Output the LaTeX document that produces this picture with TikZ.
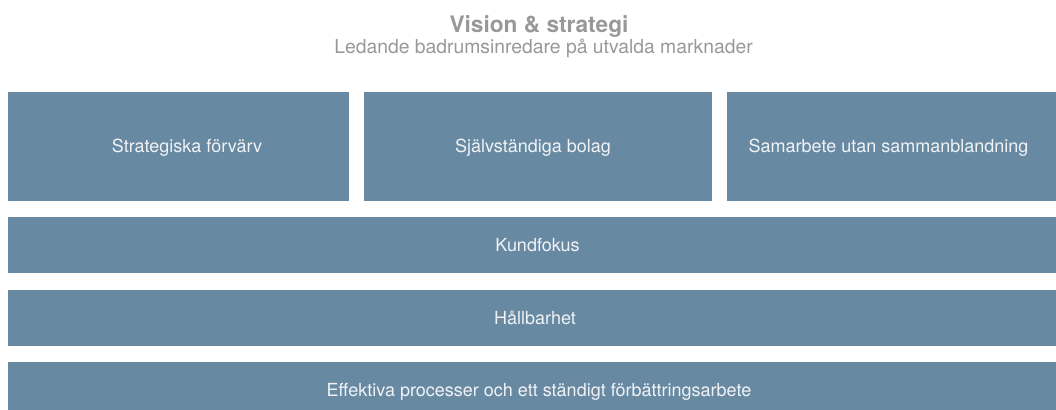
\documentclass[tikz,border=0pt]{standalone}
\usepackage{fontspec}
\setmainfont{TeX Gyre Heros}
\usepackage{tikz}
\usetikzlibrary{positioning}
\definecolor{pelare}{RGB}{104,137,162}
\definecolor{rubrikgra}{RGB}{152,152,152}
\definecolor{ljus}{RGB}{240,243,246}
\tikzset{
    block/.style={ % blå fält
        fill=pelare
    },
    blocktext/.style={ % text i fälten
        text=ljus,
        font=\fontsize{13.5}{16}\selectfont,
        anchor=base,
        inner sep=0pt
    },
    rubrik/.style={ % överskrift
        text=rubrikgra,
        font=\bfseries\fontsize{17}{20}\selectfont,
        anchor=base,
        inner sep=0pt
    },
    underrubrik/.style={
        text=rubrikgra,
        font=\fontsize{14.5}{17}\selectfont,
        anchor=base,
        inner sep=0pt
    }
}

\begin{document}
\begin{tikzpicture}[x=0.75pt,y=-0.75pt]
            \useasboundingbox (0,0) rectangle (1056,410);
            % rubrik
            \node[rubrik]      (vision)   at (539,32.5)  {Vision \& strategi};
            \node[underrubrik] (ledande)  at (543.5,54)  {Ledande badrumsinredare på utvalda marknader};
            % översta raden
            \fill[block] (8,92)   rectangle (349,200.5);
            \fill[block] (364,92) rectangle (712,200.5);
            \fill[block] (727,92) rectangle (1056,200.5);
            \node[blocktext] (forvarv)   at (187,152)   {Strategiska förvärv};
            \node[blocktext] (bolag)     at (533,152)   {Självständiga bolag};
            \node[blocktext] (samarbete) at (888.5,152) {Samarbete utan sammanblandning};
            % hela bredden
            \fill[block] (8,217) rectangle (1056,273);
            \node[blocktext] (kund)      at (537.5,251.5) {Kundfokus};
            \fill[block] (8,290) rectangle (1056,346);
            \node[blocktext] (hallbar)   at (535,324.5) {Hållbarhet};
            \fill[block] (8,362) rectangle (1056,410);
            \node[blocktext] (process)   at (539,396) {Effektiva processer och ett ständigt förbättringsarbete};
\end{tikzpicture}
\end{document}
